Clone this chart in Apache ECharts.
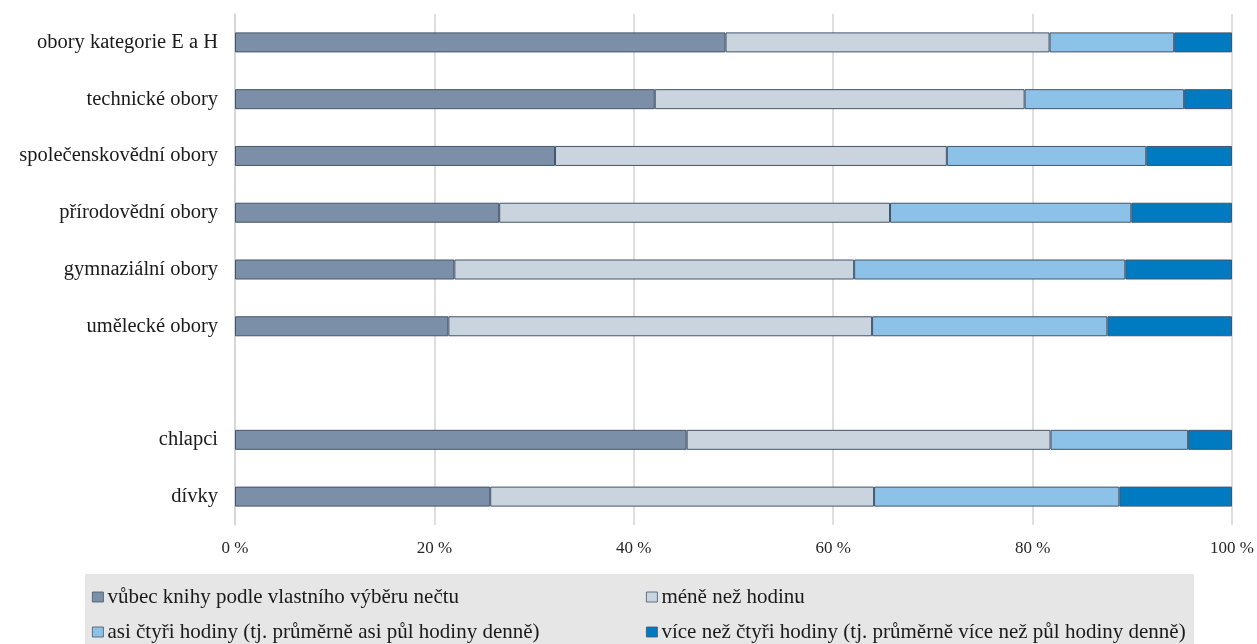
<!DOCTYPE html>
<html>
<head>
<meta charset="utf-8">
<script src="https://cdn.jsdelivr.net/npm/echarts@6/dist/echarts.min.js"></script>
<style>
html,body{margin:0;padding:0;background:#fff;}
#chart{width:1257px;height:644px;}
</style>
</head>
<body>
<div id="chart"></div>
<script>
const categories = ['obory kategorie E a H','technické obory','společenskovědní obory','přírodovědní obory','gymnaziální obory','umělecké obory','','chlapci','dívky'];
const seriesNames = ['vůbec knihy podle vlastního výběru nečtu','méně než hodinu','asi čtyři hodiny (tj. průměrně asi půl hodiny denně)','více než čtyři hodiny (tj. průměrně více než půl hodiny denně)'];
const vubec  = [49.2, 42.1, 32.1, 26.5, 22.0, 21.4, '-', 45.3, 25.6];
const mene   = [32.5, 37.1, 39.3, 39.2, 40.1, 42.5, '-', 36.5, 38.5];
const asi    = [12.5, 16.0, 20.0, 24.2, 27.2, 23.6, '-', 13.8, 24.6];
const vice   = [5.8, 4.8, 8.6, 10.1, 10.7, 12.5, '-', 4.4, 11.3];
const xTicks = [0, 20, 40, 60, 80, 100];

const colors = ['#7c8fa8', '#c9d4de', '#8cc1e8', '#007bc2'];
const values = [vubec, mene, asi, vice];
const FONT = '"Liberation Serif", "Times New Roman", serif';

const chart = echarts.init(document.getElementById('chart'));
const series = seriesNames.map((n, i) => ({
  name: n,
  type: 'bar',
  stack: 'total',
  barWidth: 20,
  data: values[i],
  itemStyle: { color: colors[i], borderColor: '#44546a', borderWidth: 1 },
  emphasis: { disabled: true }
}));

const legendPos = [
  { left: 92, top: 585 },
  { left: 646, top: 585 },
  { left: 92, top: 620 },
  { left: 646, top: 620 }
];
const legends = seriesNames.map((n, i) => ({
  data: [n],
  left: legendPos[i].left,
  top: legendPos[i].top,
  orient: 'horizontal',
  icon: 'rect',
  itemWidth: 11,
  itemHeight: 10,
  selectedMode: false,
  padding: 0,
  itemStyle: { borderColor: '#44546a', borderWidth: 0.8 },
  textStyle: { fontFamily: FONT, fontSize: 21, color: '#1a1a1a', lineHeight: 24, padding: [0, 0, 0, -1] }
}));

chart.setOption({
  animation: false,
  backgroundColor: '#fff',
  graphic: [{
    type: 'rect', left: 85, top: 574, z: -10,
    shape: { width: 1109, height: 80 },
    style: { fill: '#e6e6e6' }
  }],
  legend: legends,
  grid: { left: 235, right: 25, top: 14, bottom: 119, containLabel: false },
  xAxis: {
    type: 'value', min: 0, max: 100, interval: 20,
    axisLine: { show: false },
    axisTick: { show: false },
    splitLine: { show: true, lineStyle: { color: '#d4d4d4', width: 1.5 } },
    axisLabel: { fontFamily: FONT, fontSize: 17, color: '#262626', margin: 15,
      formatter: v => xTicks.includes(v) ? v + ' %' : '' }
  },
  yAxis: {
    type: 'category', inverse: true, data: categories,
    axisLine: { show: true, lineStyle: { color: '#d4d4d4', width: 1.5 } },
    axisTick: { show: false },
    axisLabel: { fontFamily: FONT, fontSize: 20.5, color: '#1a1a1a', margin: 17 }
  },
  series: series
});
</script>
</body>
</html>
